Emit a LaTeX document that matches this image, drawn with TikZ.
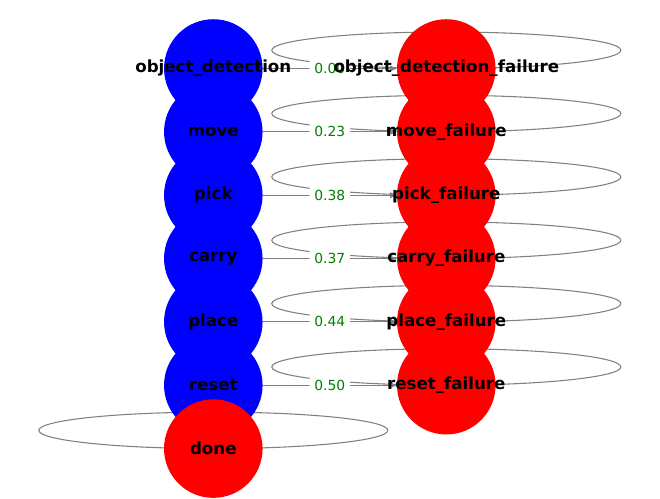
\documentclass[tikz,border=0pt]{standalone}
\usepackage{fontspec}
\setmainfont{DejaVu Sans}
\usetikzlibrary{arrows.meta}
\pgfdeclarelayer{bg}
\pgfdeclarelayer{mid}
\pgfdeclarelayer{top}
\pgfsetlayers{bg,mid,main,top}
\definecolor{edgegray}{HTML}{808080}
\definecolor{labgreen}{HTML}{008000}
\tikzset{
  task/.style={circle, fill=blue, minimum size=73.9pt, inner sep=0pt},
  fail/.style={task, fill=red},
  nlab/.style={inner sep=0pt, text=black,
    font=\fontsize{12.5pt}{14pt}\selectfont\bfseries},
  conn/.style={draw=edgegray, line width=0.8pt, -{Triangle[length=5pt,width=4.2pt]}},
  selfloop/.style={draw=edgegray, line width=0.8pt},
  elab/.style={fill=white, rounded corners=2pt, inner xsep=3.6pt, inner ysep=3.6pt,
    text=labgreen, font=\fontsize{10.4pt}{12pt}\selectfont, midway}
}
\begin{document}
\begin{tikzpicture}[x=0.75pt,y=-0.75pt]
\useasboundingbox (0,0) rectangle (660,499);
% nodes
\node[task] (od) at (213.3,68.5) {};
\node[fail] (odf) at (446.3,68.5) {};
\node[task] (mv) at (213.3,131.8) {};
\node[fail] (mvf) at (446.3,131.8) {};
\node[task] (pk) at (213.3,195.2) {};
\node[fail] (pkf) at (446.3,195.2) {};
\node[task] (cr) at (213.3,258.5) {};
\node[fail] (crf) at (446.3,258.5) {};
\node[task] (pl) at (213.3,321.9) {};
\node[fail] (plf) at (446.3,321.9) {};
\node[task] (rs) at (213.3,385.2) {};
\node[fail] (rsf) at (446.3,385.2) {};
\node[fail] (dn) at (213.3,448.6) {};
% node labels
\begin{pgfonlayer}{top}
  \node[nlab] (tod) at (od) {object\_detection};
  \node[nlab] (todf) at (odf) {object\_detection\_failure};
  \node[nlab] (tmv) at (mv) {move};
  \node[nlab] (tmvf) at (mvf) {move\_failure};
  \node[nlab] (tpk) at (pk) {pick};
  \node[nlab] (tpkf) at (pkf) {pick\_failure};
  \node[nlab] (tcr) at (cr) {carry};
  \node[nlab] (tcrf) at (crf) {carry\_failure};
  \node[nlab] (tpl) at (pl) {place};
  \node[nlab] (tplf) at (plf) {place\_failure};
  \node[nlab] (trs) at (rs) {reset};
  \node[nlab] (trsf) at (rsf) {reset\_failure};
  \node[nlab] (tdn) at (dn) {done};
\end{pgfonlayer}
% loops and edges
\begin{pgfonlayer}{bg}
  \foreach \n in {odf,mvf,pkf,crf,plf,rsf,dn}{
    \draw[selfloop] ([yshift=13.7pt]\n.center) ellipse [x radius=130.9pt, y radius=13.7pt];
  }
  \draw[conn] (od) -- (odf);
  \draw[conn] (mv) -- (mvf);
  \draw[conn] (pk) -- (pkf);
  \draw[conn] (cr) -- (crf);
  \draw[conn] (pl) -- (plf);
  \draw[conn] (rs) -- (rsf);
\end{pgfonlayer}
\begin{pgfonlayer}{mid}
  \path (od.center) -- node[elab] (l1) {0.00} (odf.center);
  \path (mv.center) -- node[elab] (l2) {0.23} (mvf.center);
  \path (pk.center) -- node[elab] (l3) {0.38} (pkf.center);
  \path (cr.center) -- node[elab] (l4) {0.37} (crf.center);
  \path (pl.center) -- node[elab] (l5) {0.44} (plf.center);
  \path (rs.center) -- node[elab] (l6) {0.50} (rsf.center);
\end{pgfonlayer}
\end{tikzpicture}
\end{document}
